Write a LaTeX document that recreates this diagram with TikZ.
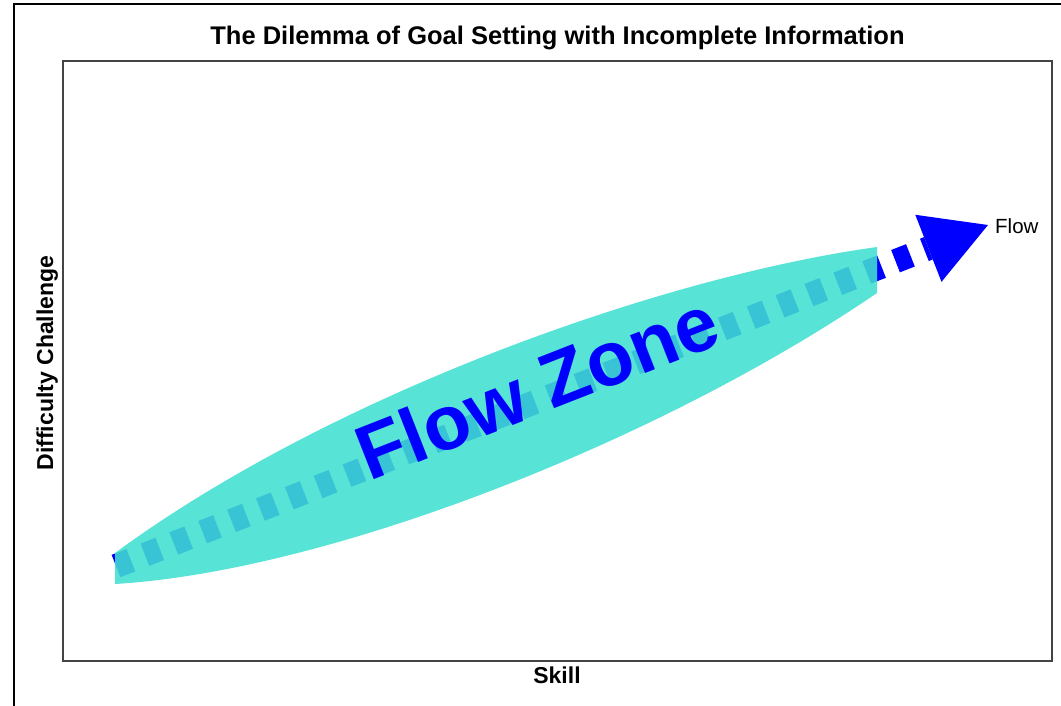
\documentclass[tikz,border=0pt]{standalone}
\usepackage{fontspec}
\setmainfont{Liberation Sans}
\usetikzlibrary{arrows.meta}
\definecolor{zone}{RGB}{64,224,208}
\definecolor{framegray}{RGB}{68,68,68}
\begin{document}
\begin{tikzpicture}[x=1pt,y=-1pt,
  outerframe/.style={draw=black,line width=2pt},
  plotframe/.style={draw=framegray,line width=2pt},
  flowline/.style={draw=blue,line width=24pt,dash pattern=on 16pt off 15pt,
    -{Triangle[length=64pt,width=72pt,line width=0pt]}},
  zonefill/.style={fill=zone,fill opacity=0.88},
  lbl/.style={inner sep=0pt,text=black},
  boldlbl/.style={lbl,font=\bfseries\fontsize{23}{26}\selectfont}
]
\useasboundingbox (0,0) rectangle (1061,705);
\clip (0,0) rectangle (1061,705);
\draw[outerframe] (14,4) rectangle (1080,720);
\draw[plotframe] (63,61) rectangle (1052,661);
% flow arrow
\coordinate (start) at (116,566);
\coordinate (tip) at (988,225);
\draw[flowline] (start) -- (tip);
% flow zone
\path[zonefill] (115,553) .. controls (330,395) and (660,277) .. (877,247)
  -- (877,293) .. controls (660,441) and (330,571) .. (115,584) -- cycle;
\node[inner sep=0pt,text=blue,font=\bfseries\fontsize{77}{77}\selectfont,
  rotate=21.4,anchor=base] (fz) at (547,412) {Flow Zone};
% labels
\node[lbl,anchor=base west,font=\fontsize{20.5}{24}\selectfont] (flow) at (995,233) {Flow};
\node[lbl,anchor=base,font=\bfseries\fontsize{25.5}{30}\selectfont] (title) at (557.5,44)
  {The Dilemma of Goal Setting with Incomplete Information};
\node[boldlbl,anchor=base] (xlab) at (557,683) {Skill};
\node[boldlbl,anchor=base,rotate=90] (ylab) at (53,363) {Difficulty Challenge};
\end{tikzpicture}
\end{document}
